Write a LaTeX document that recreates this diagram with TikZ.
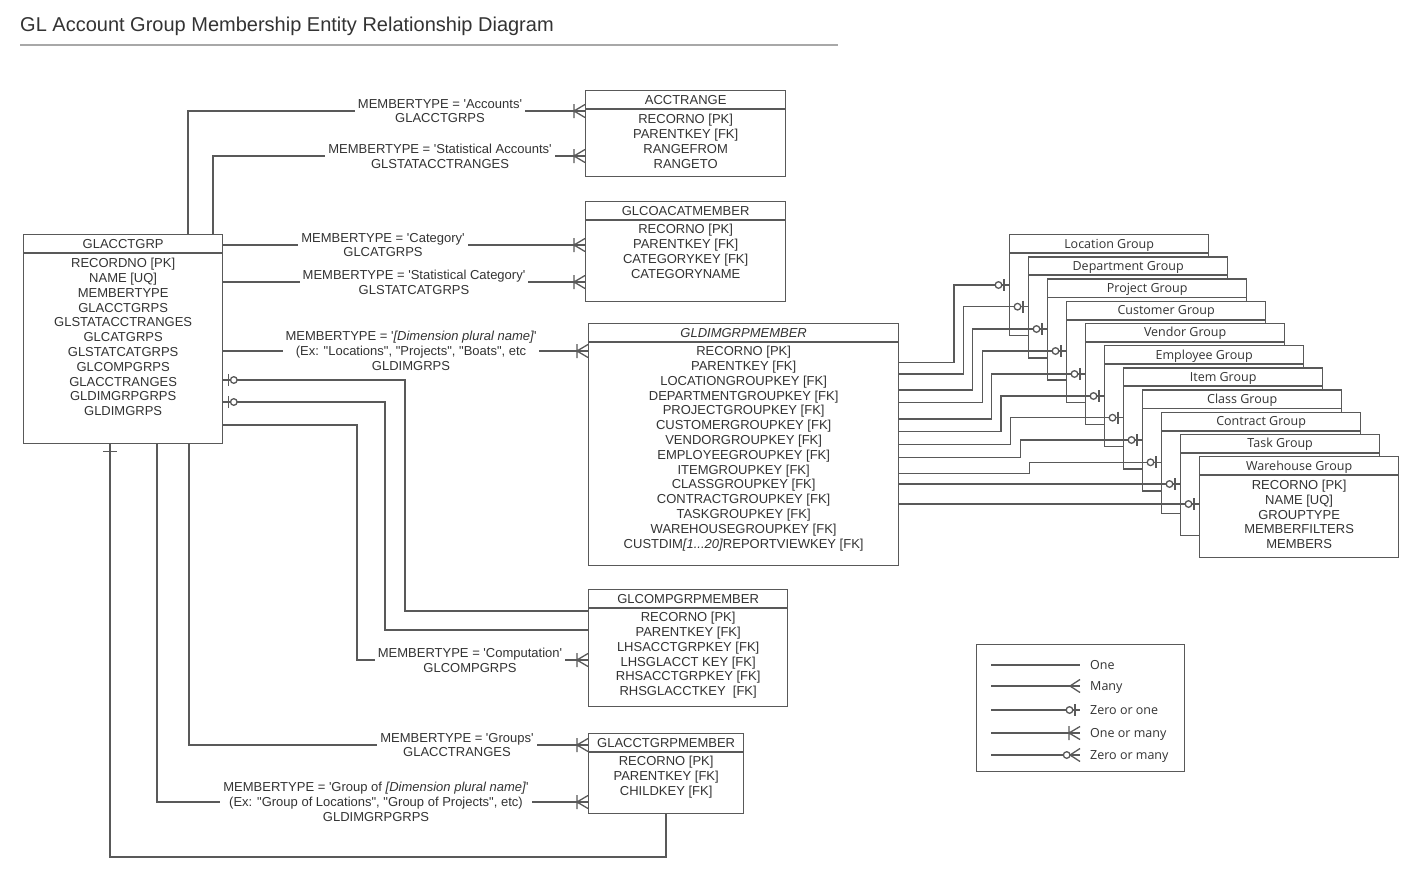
\documentclass[tikz,border=0pt]{standalone}
\usepackage{fontspec}
\newfontfamily\lsans{Liberation Sans}
\newfontfamily\osans{Open Sans}
\usepackage{tikz}
\definecolor{linec}{HTML}{595959}
\definecolor{txtc}{HTML}{333333}
\definecolor{rulec}{HTML}{A8A8A8}
% entity box: name, x, y, width, height, title
\newcommand{\entity}[6]{%
  \node[ent, minimum width=#4pt, minimum height=#5pt] (#1) at (#2,#3) {};
  \draw[hdr] ([yshift=-19pt]#1.north west) -- ([yshift=-19pt]#1.north east);
  \node[ttl] (#1-t) at ([yshift=-14pt]#1.north) {#6};}

\begin{document}
\begin{tikzpicture}[x=1pt, y=-1pt, text=txtc,
    font=\lsans\fontsize{13}{14.8}\selectfont,
    ent/.style={draw=linec, line width=1.3pt, fill=white, anchor=north west, inner sep=0pt},
    ttl/.style={anchor=base, inner sep=0pt},
    attr/.style={anchor=north, align=center, inner sep=0pt},
    hdr/.style={draw=linec, line width=1.8pt},
    conn/.style={draw=linec, line width=1.3pt},
    lbl/.style={fill=white, align=center, inner xsep=3pt, inner ysep=1pt},
    lgt/.style={anchor=west, inner sep=0pt, text height=9pt, text depth=0pt,
      font=\osans\fontsize{12.5}{15}\selectfont},
    crow/.pic={\draw[conn] (-11,-7) -- (-11,7) (0,-6.5) -- (-11,0) -- (0,6.5);},
    zo/.pic={\draw[conn] (-5,-6) -- (-5,6); \draw[conn, fill=white] (-10.5,0) circle (3.3pt);},
    one/.pic={\draw[conn] (-7,-7) -- (-7,7);},
    many/.pic={\draw[conn] (0,-6.5) -- (-10,0) -- (0,6.5);},
    zomany/.pic={\draw[conn] (0,-6.5) -- (-10,0) -- (0,6.5);
      \draw[conn, fill=white] (-13.3,0) circle (3.3pt);},
    none/.pic={}]

  \fill[white] (0,0) rectangle (1411,876);
  \useasboundingbox (0,0) rectangle (1411,876);

  % ---- title ----------------------------------------------------------
  \node[anchor=base west, inner sep=0pt, font=\lsans\fontsize{20}{24}\selectfont] (title) at (20,31)
    {GL Account Group Membership Entity Relationship Diagram};
  \draw[rulec, line width=2pt] (title.west |- 0,45) -- (838,45);

  % ---- entities -------------------------------------------------------
  \entity{glacctgrp}{23}{234}{199}{209}{GLACCTGRP}
  \node[attr] (glacctgrp-a) at ([yshift=-24pt]glacctgrp.north) {RECORDNO [PK]\\NAME [UQ]\\MEMBERTYPE\\GLACCTGRPS\\GLSTATACCTRANGES\\GLCATGRPS\\GLSTATCATGRPS\\GLCOMPGRPS\\GLACCTRANGES\\GLDIMGRPGRPS\\GLDIMGRPS};

  \entity{acctrange}{585}{90}{200}{86}{ACCTRANGE}
  \node[attr] (acctrange-a) at ([yshift=-24pt]acctrange.north) {RECORNO [PK]\\PARENTKEY [FK]\\RANGEFROM\\RANGETO};

  \entity{glcoacat}{585}{201}{200}{100}{GLCOACATMEMBER}
  \node[attr] (glcoacat-a) at ([yshift=-23pt]glcoacat.north) {RECORNO [PK]\\PARENTKEY [FK]\\CATEGORYKEY [FK]\\CATEGORYNAME};

  \entity{gldim}{588}{323}{310}{242}{\textit{GLDIMGRPMEMBER}}
  \node[attr] (gldim-a) at ([yshift=-23pt]gldim.north) {RECORNO [PK]\\PARENTKEY [FK]\\LOCATIONGROUPKEY [FK]\\DEPARTMENTGROUPKEY [FK]\\PROJECTGROUPKEY [FK]\\CUSTOMERGROUPKEY [FK]\\VENDORGROUPKEY [FK]\\EMPLOYEEGROUPKEY [FK]\\ITEMGROUPKEY [FK]\\CLASSGROUPKEY [FK]\\CONTRACTGROUPKEY [FK]\\TASKGROUPKEY [FK]\\WAREHOUSEGROUPKEY [FK]\\CUSTDIM\textit{[1...20]}REPORTVIEWKEY [FK]};

  \entity{glcomp}{588}{589}{199}{117}{GLCOMPGRPMEMBER}
  \node[attr] (glcomp-a) at ([yshift=-23pt]glcomp.north) {RECORNO [PK]\\PARENTKEY [FK]\\LHSACCTGRPKEY [FK]\\LHSGLACCT KEY [FK]\\RHSACCTGRPKEY [FK]\\RHSGLACCTKEY \ [FK]};

  \entity{glacctgrpm}{588}{733}{155}{80}{GLACCTGRPMEMBER}
  \node[attr] (glacctgrpm-a) at ([yshift=-23pt]glacctgrpm.north) {RECORNO [PK]\\PARENTKEY [FK]\\CHILDKEY [FK]};

  % ---- dimension groups (stacked) -------------------------------------
  \foreach \g [count=\i from 0] in {Location, Department, Project, Customer, Vendor, Employee, Item, Class, Contract, Task, Warehouse}{
    \node[ent, minimum width=199pt, minimum height=101pt] (grp\i) at (1009+19*\i, 234+22.2*\i) {};
    \draw[hdr] ([yshift=-19pt]grp\i.north west) -- ([yshift=-19pt]grp\i.north east);
    \node[ttl, font=\osans\fontsize{12.5}{15}\selectfont] (grp\i-t) at ([yshift=-14pt]grp\i.north) {\g\ Group};
  }
  \node[attr, font=\lsans\fontsize{13}{14.75}\selectfont] (grp10-a) at ([yshift=-24pt]grp10.north) {RECORNO [PK]\\NAME [UQ]\\GROUPTYPE\\MEMBERFILTERS\\MEMBERS};

  % ---- relationships from GLACCTGRP -----------------------------------
  \draw[conn] (glacctgrp.north -| 188,0) |- (acctrange.west |- 0,111);
  \draw[conn] (glacctgrp.north -| 213,0) |- (acctrange.west |- 0,156);
  \draw[conn] (glacctgrp.east |- 0,245) -- (glcoacat.west |- 0,245);
  \draw[conn] (glacctgrp.east |- 0,282) -- (glcoacat.west |- 0,282);
  \draw[conn] (glacctgrp.east |- 0,351) -- (gldim.west |- 0,351);
  \draw[conn] (glacctgrp.east |- 0,380) -| (405,611) -- (glcomp.west |- 0,611);
  \draw[conn] (glacctgrp.east |- 0,402) -| (385,630) -- (glcomp.west |- 0,630);
  \draw[conn] (glacctgrp.east |- 0,425) -| (357,660) -- (glcomp.west |- 0,660);
  \draw[conn] (glacctgrp.south -| 189,0) |- (glacctgrpm.west |- 0,745);
  \draw[conn] (glacctgrp.south -| 157,0) |- (glacctgrpm.west |- 0,802);
  \draw[conn] (glacctgrp.south -| 110,0) -- (110,857) -| (glacctgrpm.south -| 666,0);

  \pic at (acctrange.west |- 0,111) {crow};
  \pic at (acctrange.west |- 0,156) {crow};
  \pic at (glcoacat.west |- 0,245) {crow};
  \pic at (glcoacat.west |- 0,282) {crow};
  \pic at (gldim.west |- 0,351) {crow};
  \pic at (glcomp.west |- 0,660) {crow};
  \pic at (glacctgrpm.west |- 0,745) {crow};
  \pic at (glacctgrpm.west |- 0,802) {crow};
  \pic[rotate=180] at (glacctgrp.east |- 0,380) {zo};
  \pic[rotate=180] at (glacctgrp.east |- 0,402) {zo};
  \pic[rotate=90] at (glacctgrp.south -| 110,0) {one};

  \node[lbl] (l-acct) at (440,111) {MEMBERTYPE = 'Accounts'\\GLACCTGRPS};
  \node[lbl] (l-stacct) at (440,156) {MEMBERTYPE = 'Statistical Accounts'\\GLSTATACCTRANGES};
  \node[lbl] (l-cat) at (383,245) {MEMBERTYPE = 'Category'\\GLCATGRPS};
  \node[lbl] (l-stcat) at (414,282) {MEMBERTYPE = 'Statistical Category'\\GLSTATCATGRPS};
  \node[lbl] (l-dim) at (411,351) {MEMBERTYPE = '\textit{[Dimension plural name]}'\\(Ex: "Locations", "Projects", "Boats", etc\\GLDIMGRPS};
  \node[lbl] (l-comp) at (470,660) {MEMBERTYPE = 'Computation'\\GLCOMPGRPS};
  \node[lbl] (l-grps) at (457,745) {MEMBERTYPE = 'Groups'\\GLACCTRANGES};
  \node[lbl] (l-grpdim) at (376,802) {MEMBERTYPE = 'Group of \textit{[Dimension plural name]}'\\(Ex: "Group of Locations", "Group of Projects", etc)\\GLDIMGRPGRPS};

  % ---- GLDIMGRPMEMBER to the groups -----------------------------------
  \foreach \ya/\xt/\yt [count=\i from 0] in {362.7/954/285, 374/963.3/306.7, 390/972.7/329,
      402.7/982.3/351, 419/991.7/374, 431.7/1001/396, 444.3/1010.7/417.7, 457.7/1020.3/440,
      473.3/1029.7/462.3, 484/1040/484, 504/1040/504}{
    \draw[conn] (gldim.east |- 0,\ya) -| (\xt,\yt) -- (grp\i.west |- 0,\yt);
    \pic at (grp\i.west |- 0,\yt) {zo};
  }

  % ---- legend ---------------------------------------------------------
  \node[draw=linec, line width=1.2pt, anchor=north west, inner sep=0pt,
    minimum width=208pt, minimum height=127pt] (legend) at (976,644) {};
  \foreach \t/\y/\m [count=\i] in {One/665/none, Many/686/many, Zero or one/710/zo,
      One or many/733/crow, Zero or many/755/zomany}{
    \node[lgt] (lg\i) at (1090,\y) {\t};
    \draw[conn] (lg\i.west -| legend.west) ++(15,0) -- (lg\i.west -| 1080,0);
    \pic at (lg\i.west -| 1080,0) {\m};
  }
\end{tikzpicture}
\end{document}
